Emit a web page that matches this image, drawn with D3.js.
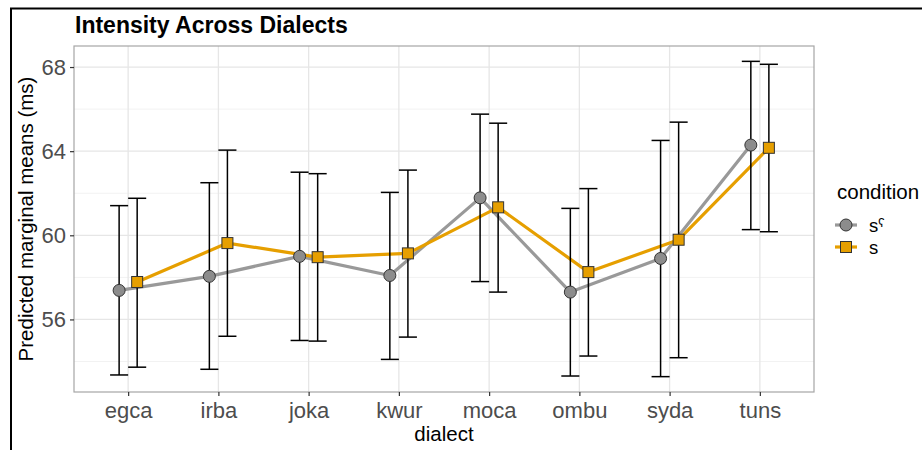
<!DOCTYPE html>
<html>
<head>
<meta charset="utf-8">
<script src="https://cdn.jsdelivr.net/npm/d3@7"></script>
<style>
  body { margin: 0; background: #fff; }
  svg { display: block; }
</style>
</head>
<body>
<svg id="svg" width="922" height="450"></svg>
<script>
    var font = "Liberation Sans, Arial, Helvetica, sans-serif";

    // data
    var dialects = ["egca", "irba", "joka", "kwur", "moca", "ombu", "syda", "tuns"];
    var conditions = ["s\u02E4", "s"];
    var meanPhar = [57.38, 58.05, 59.0, 58.09, 61.78, 57.3, 58.9, 64.29];
    var lowPhar  = [53.36, 53.63, 55.0, 54.1, 57.8, 53.31, 53.28, 60.27];
    var highPhar = [61.41, 62.5, 63.0, 62.04, 65.76, 61.28, 64.51, 68.27];
    var meanPlain = [57.78, 59.63, 58.96, 59.14, 61.33, 58.25, 59.79, 64.16];
    var lowPlain  = [53.73, 55.2, 54.97, 55.16, 57.3, 54.26, 54.18, 60.17];
    var highPlain = [61.76, 64.05, 62.93, 63.1, 65.33, 62.22, 65.38, 68.13];
    var yTicks = [56, 60, 64, 68];
    var yMinor = [54, 58, 62, 66];

    var colors = {"s\u02E4": "#999999", "s": "#E69F00"};
    var fills = {"s\u02E4": "#8c8c8c", "s": "#E69F00"};

    var series = [
        {cond: conditions[0], mean: meanPhar, low: lowPhar, high: highPhar, dodge: -1},
        {cond: conditions[1], mean: meanPlain, low: lowPlain, high: highPlain, dodge: 1}
    ];

    var panel = {left: 74, right: 814, top: 46, bottom: 392};
    var svg = d3.select("#svg");

    // outer frame
    svg.append("rect")
        .attr("x", 11).attr("y", 8.5)
        .attr("width", 940).attr("height", 460)
        .attr("fill", "none")
        .attr("stroke", "#000")
        .attr("stroke-width", 2);

    var x = d3.scalePoint()
        .domain(dialects)
        .range([panel.left, panel.right])
        .padding(0.6);
    var step = x.step();
    var dodgeW = step * 0.1;

    var y = d3.scaleLinear()
        .domain([52.55, 69.0])
        .range([panel.bottom, panel.top]);

    // grid
    var g = svg.append("g");
    g.selectAll(".minor").data(yMinor).enter().append("line")
        .attr("x1", panel.left).attr("x2", panel.right)
        .attr("y1", function (d) { return y(d); })
        .attr("y2", function (d) { return y(d); })
        .attr("stroke", "#f2f2f2").attr("stroke-width", 1);
    g.selectAll(".major").data(yTicks).enter().append("line")
        .attr("x1", panel.left).attr("x2", panel.right)
        .attr("y1", function (d) { return y(d); })
        .attr("y2", function (d) { return y(d); })
        .attr("stroke", "#e6e6e6").attr("stroke-width", 1.3);
    g.selectAll(".vmajor").data(dialects).enter().append("line")
        .attr("y1", panel.top).attr("y2", panel.bottom)
        .attr("x1", function (d) { return x(d); })
        .attr("x2", function (d) { return x(d); })
        .attr("stroke", "#e6e6e6").attr("stroke-width", 1.3);

    // lines
    var line = d3.line()
        .x(function (d) { return d[0]; })
        .y(function (d) { return d[1]; });
    series.forEach(function (s) {
        var pts = dialects.map(function (c, i) {
            return [x(c) + s.dodge * dodgeW, y(s.mean[i])];
        });
        svg.append("path")
            .attr("d", line(pts))
            .attr("fill", "none")
            .attr("stroke", colors[s.cond])
            .attr("stroke-width", 3.2)
            .attr("stroke-linejoin", "round");
    });

    // error bars
    series.forEach(function (s) {
        var eb = svg.append("g")
            .attr("stroke", "#000")
            .attr("stroke-width", 1.5)
            .attr("fill", "none");
        dialects.forEach(function (c, i) {
            var cx = x(c) + s.dodge * dodgeW;
            eb.append("line")
                .attr("x1", cx).attr("x2", cx)
                .attr("y1", y(s.low[i])).attr("y2", y(s.high[i]));
            eb.append("line")
                .attr("x1", cx - dodgeW).attr("x2", cx + dodgeW)
                .attr("y1", y(s.low[i])).attr("y2", y(s.low[i]));
            eb.append("line")
                .attr("x1", cx - dodgeW).attr("x2", cx + dodgeW)
                .attr("y1", y(s.high[i])).attr("y2", y(s.high[i]));
        });
    });

    // points
    function drawShape(sel, cond, cx, cy) {
        if (cond === conditions[0]) {
            sel.append("circle")
                .attr("cx", cx).attr("cy", cy).attr("r", 6)
                .attr("fill", fills[cond])
                .attr("stroke", "#333").attr("stroke-width", 1);
        } else {
            sel.append("rect")
                .attr("x", cx - 5.5).attr("y", cy - 5.5)
                .attr("width", 11).attr("height", 11)
                .attr("fill", fills[cond])
                .attr("stroke", "#333").attr("stroke-width", 1);
        }
    }
    series.forEach(function (s) {
        dialects.forEach(function (c, i) {
            drawShape(svg, s.cond, x(c) + s.dodge * dodgeW, y(s.mean[i]));
        });
    });

    // panel border
    svg.append("rect")
        .attr("x", panel.left).attr("y", panel.top)
        .attr("width", panel.right - panel.left)
        .attr("height", panel.bottom - panel.top)
        .attr("fill", "none")
        .attr("stroke", "#a6a6a6").attr("stroke-width", 1.2);

    // axes
    var xAxis = svg.append("g")
        .attr("transform", "translate(0," + panel.bottom + ")")
        .call(d3.axisBottom(x).tickSize(4).tickPadding(6));
    var yAxis = svg.append("g")
        .attr("transform", "translate(" + panel.left + ",0)")
        .call(d3.axisLeft(y).tickValues(yTicks).tickSize(4).tickPadding(4));
    [xAxis, yAxis].forEach(function (a) {
        a.select(".domain").remove();
        a.selectAll(".tick line").attr("stroke", "#333").attr("stroke-width", 1.2);
        a.selectAll(".tick text")
            .attr("fill", "#4d4d4d")
            .attr("font-family", font)
            .attr("font-size", "22px");
    });

    // titles
    svg.append("text")
        .attr("x", 75).attr("y", 33)
        .attr("font-family", font)
        .attr("font-weight", "bold")
        .attr("font-size", "23px")
        .text("Intensity Across Dialects");

    svg.append("text")
        .attr("x", (panel.left + panel.right) / 2).attr("y", 441)
        .attr("text-anchor", "middle")
        .attr("font-family", font)
        .attr("font-size", "20.5px")
        .text("dialect");

    svg.append("text")
        .attr("transform", "translate(33," + ((panel.top + panel.bottom) / 2) + ") rotate(-90)")
        .attr("text-anchor", "middle")
        .attr("font-family", font)
        .attr("font-size", "20.5px")
        .text("Predicted marginal means (ms)");

    // legend
    var leg = svg.append("g");
    leg.append("text")
        .attr("x", 837).attr("y", 199)
        .attr("font-family", font)
        .attr("font-size", "20.5px")
        .text("condition");
    conditions.forEach(function (c, i) {
        var ky = 225 + i * 22;
        leg.append("line")
            .attr("x1", 835).attr("x2", 857)
            .attr("y1", ky).attr("y2", ky)
            .attr("stroke", colors[c]).attr("stroke-width", 3.2);
        drawShape(leg, c, 846, ky);
        leg.append("text")
            .attr("x", 869).attr("y", ky + 7)
            .attr("font-family", font)
            .attr("font-size", "18.5px")
            .text(c);
    });
</script>
</body>
</html>
